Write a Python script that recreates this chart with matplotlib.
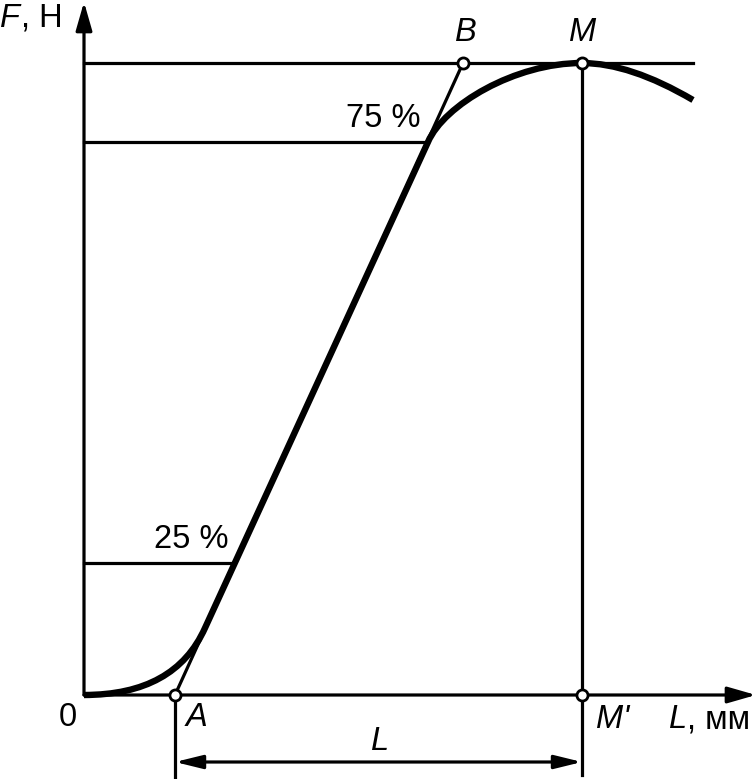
import matplotlib
matplotlib.use('Agg')
import matplotlib.pyplot as plt
from matplotlib.path import Path
from matplotlib.patches import PathPatch

plt.rcParams['font.family'] = ['Liberation Sans', 'DejaVu Sans']

# Schematic force-elongation diagram, coordinates with origin at the axes corner
F_max = 632          # level of point M / B
F_75 = 553           # 75 % level
F_25 = 132           # 25 % level
point_A = (91, 0)
point_B = (379, 632)
point_M = (498, 632)
point_Mp = (498, 0)
knee_low = (121, 67)     # end of lower curved section
knee_high = (344, 553)   # start of upper curved section
curve_end = (609, 595)
top_line_end = 609
x_axis_end = 672
y_axis_end = 693
dim_y = -67

fig = plt.figure(figsize=(7.56, 7.79), dpi=100)
ax = fig.add_axes([0, 0, 1, 1])
ax.set_xlim(-84, 672)
ax.set_ylim(-84, 695)
ax.axis('off')

lw = 2.3
k = 'black'

# axes with arrows
ax.annotate('', xy=(0, y_axis_end), xytext=(0, 0),
            arrowprops=dict(arrowstyle='-|>,head_length=1.15,head_width=0.33',
                            mutation_scale=15, lw=lw, color=k, shrinkA=0, shrinkB=0))
ax.annotate('', xy=(x_axis_end, 0), xytext=(0, 0),
            arrowprops=dict(arrowstyle='-|>,head_length=1.15,head_width=0.33',
                            mutation_scale=15, lw=lw, color=k, shrinkA=0, shrinkB=0))

# horizontal level lines
ax.plot([0, top_line_end], [F_max, F_max], color=k, lw=lw)
ax.plot([0, knee_high[0]], [F_75, F_75], color=k, lw=lw)
ax.plot([0, 150], [F_25, F_25], color=k, lw=lw)

# tangent A-B
ax.plot([point_A[0], point_B[0]], [point_A[1], point_B[1]], color=k, lw=lw)

# vertical lines at A and M
ax.plot([point_A[0], point_A[0]], [0, -83], color=k, lw=lw)
ax.plot([point_M[0], point_M[0]], [point_M[1], -80], color=k, lw=lw)

# dimension line L
ax.annotate('', xy=(point_A[0], dim_y), xytext=(point_M[0], dim_y),
            arrowprops=dict(arrowstyle='<|-|>,head_length=1.1,head_width=0.27',
                            mutation_scale=15, lw=lw, color=k, shrinkA=0, shrinkB=0))

# main thick curve
verts = [(0, 0), point_A, knee_low,
         knee_high,
         (360, 590), (431, 632), point_M,
         (546, 632), curve_end]
codes = [Path.MOVETO, Path.CURVE3, Path.CURVE3,
         Path.LINETO,
         Path.CURVE4, Path.CURVE4, Path.CURVE4,
         Path.CURVE3, Path.CURVE3]
ax.add_patch(PathPatch(Path(verts, codes), facecolor='none', edgecolor=k,
                       lw=4.6, capstyle='butt', joinstyle='round'))

# open circle markers
for p in (point_A, point_B, point_M, point_Mp):
    ax.plot(*p, 'o', ms=8, mfc='white', mec=k, mew=2, zorder=5)

fs = 23.5
ax.text(-84, 677, 'F', fontsize=fs, style='italic', ha='left', va='center')
ax.text(-63, 677, ', Н', fontsize=fs, ha='left', va='center')
ax.text(382, 663, 'B', fontsize=fs, style='italic', ha='center', va='center')
ax.text(499, 663, 'M', fontsize=fs, style='italic', ha='center', va='center')
ax.text(336, 577, '75 %', fontsize=fs, ha='right', va='center')
ax.text(144, 155, '25 %', fontsize=fs, ha='right', va='center')
ax.text(-16, -23, '0', fontsize=fs, ha='center', va='center')
ax.text(112, -23, 'A', fontsize=fs, style='italic', ha='center', va='center')
ax.text(512, -25, "M'", fontsize=fs, style='italic', ha='left', va='center')
ax.text(585, -25, 'L', fontsize=fs, style='italic', ha='left', va='center')
ax.text(603, -25, ', мм', fontsize=fs, ha='left', va='center')
ax.text(296, -47, 'L', fontsize=fs, style='italic', ha='center', va='center')

fig.savefig('out.png', dpi=100)
